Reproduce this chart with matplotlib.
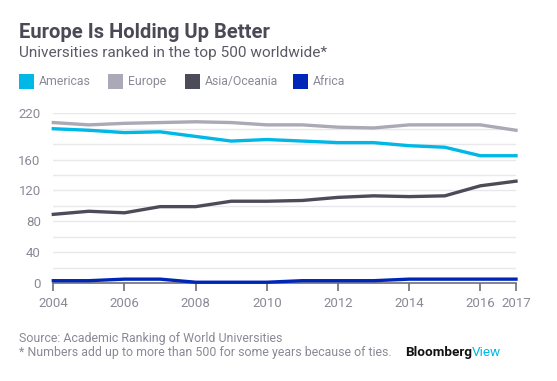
import matplotlib
matplotlib.use("Agg")
import matplotlib.pyplot as plt

plt.rcParams["font.family"] = ["Roboto", "DejaVu Sans"]

years = list(range(2004, 2018))
americas = [200, 198, 195, 196, 190, 184, 186, 184, 182, 182, 178, 176, 165, 165]
europe = [208, 205, 207, 208, 209, 208, 205, 205, 202, 201, 205, 205, 205, 198]
asia = [89, 93, 91, 99, 99, 106, 106, 107, 111, 113, 112, 113, 126, 132]
africa = [3, 3, 5, 5, 1, 1, 1, 3, 3, 3, 5, 5, 5, 5]

series_names = ["Americas", "Europe", "Asia/Oceania", "Africa"]
series_colors = ["#00b8e6", "#aaa9b5", "#4c4b5a", "#0026b8"]
xticks = [2004, 2006, 2008, 2010, 2012, 2014, 2016, 2017]
yticks = [0, 40, 80, 120, 160, 220]

W, H = 557, 381
fig = plt.figure(figsize=(W / 100, H / 100), dpi=100)
ax = fig.add_axes([53.3 / W, 1 - 283 / H, (516 - 53.3) / W, (283 - 113.3) / H])

for y in range(20, 221, 20):
    ax.axhline(y, color="#e8e8ec", lw=1, zorder=0)

for vals, c in zip([europe, americas, asia, africa], [series_colors[1], series_colors[0], series_colors[2], series_colors[3]]):
    ax.plot(years, vals, color=c, lw=2.4, solid_joinstyle="round", clip_on=False, zorder=3)

ax.set_xlim(2004, 2017)
ax.set_ylim(0, 220)
for s in ["top", "right", "left"]:
    ax.spines[s].set_visible(False)
ax.spines["bottom"].set_color("#6e6e78")
ax.spines["bottom"].set_linewidth(1.2)
ax.set_xticks(xticks)
ax.set_xticklabels([str(x) for x in xticks])
ax.set_yticks(yticks)
ax.tick_params(axis="x", length=6, width=1.2, color="#6e6e78", labelcolor="#8a8a97", labelsize=9.5, pad=4)
ax.tick_params(axis="y", length=0, labelcolor="#8a8a97", labelsize=9.5, pad=9)

gray_dark = "#4a4a57"
fig.text(19 / W, 1 - 32 / H, "Europe Is Holding Up Better", fontsize=14.5, fontweight="bold",
         color=gray_dark, va="center", ha="left")
fig.text(19 / W, 1 - 52.5 / H, "Universities ranked in the top 500 worldwide*", fontsize=11.1,
         color="#5a5a66", va="center", ha="left")

leg_x = [19, 108, 185, 293]
for name, c, x in zip(series_names, series_colors, leg_x):
    fig.patches.append(plt.Rectangle((x / W, 1 - 89 / H), 15 / W, 15 / H, transform=fig.transFigure,
                                     facecolor=c, edgecolor="none"))
    fig.text((x + 20) / W, 1 - 81.5 / H, name, fontsize=8.8, color="#8a8a97", va="center", ha="left")

fig.text(19 / W, 1 - 338.5 / H, "Source: Academic Ranking of World Universities", fontsize=8.9,
         color="#8a8a97", va="center", ha="left")
fig.text(19 / W, 1 - 352.5 / H, "* Numbers add up to more than 500 for some years because of ties.",
         fontsize=8.9, color="#8a8a97", va="center", ha="left")
t = fig.text(405 / W, 1 - 352.5 / H, "Bloomberg", fontsize=9.7, fontweight="bold", color="#111111",
             va="center", ha="left")
fig.canvas.draw()
bb = t.get_window_extent()
fig.text(bb.x1 / W, 1 - 352.5 / H, "View", fontsize=9.7, color="#00b8e6", va="center", ha="left")

fig.savefig("out.png", dpi=100)
